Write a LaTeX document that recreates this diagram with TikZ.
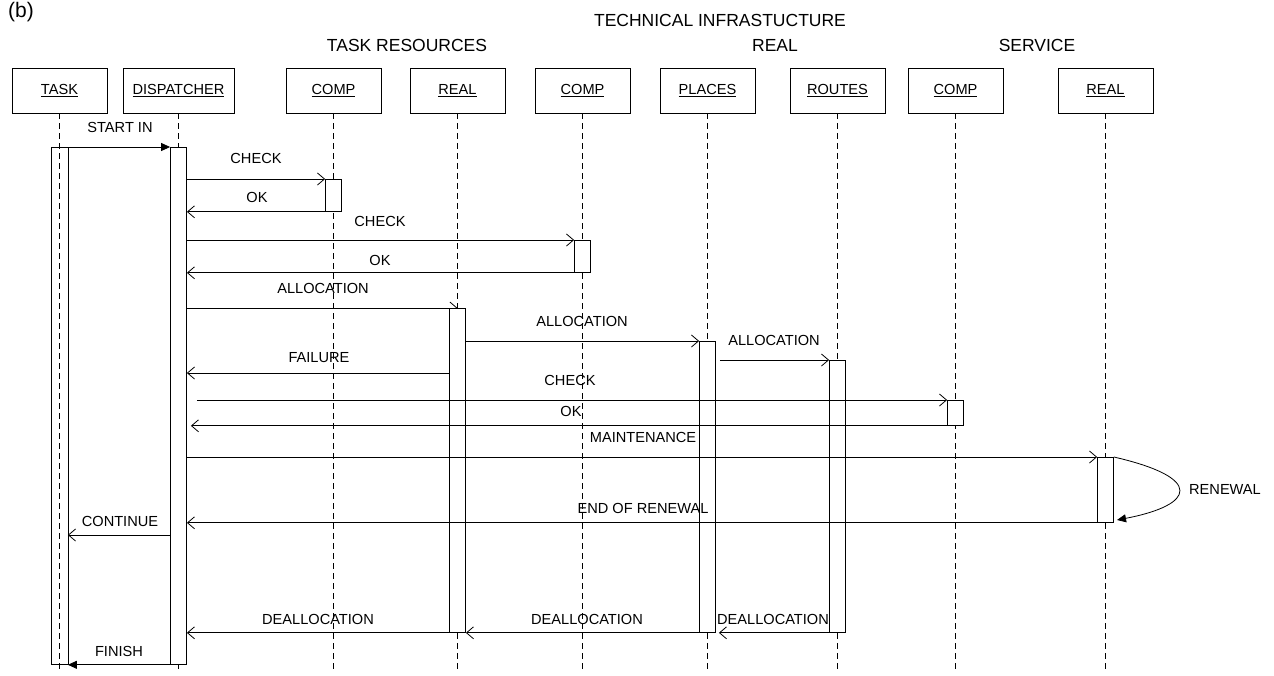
\documentclass[tikz,border=0pt]{standalone}
\usepackage{fontspec}
\setmainfont{Liberation Sans}
\usetikzlibrary{arrows.meta}
\begin{document}
\begin{tikzpicture}[x=1pt,y=-1pt,line width=0.8pt,
  obj/.style={draw, minimum width=95pt, minimum height=45pt, inner sep=0pt,
              font=\fontsize{14.6}{16}\selectfont},
  act/.style={draw, fill=white, minimum width=16pt, inner sep=0pt, anchor=north},
  life/.style={dash pattern=on 6pt off 4pt},
  msg/.style={-{Straight Barb[length=7pt,width=12pt,line width=0.8pt]}},
  sync/.style={-{Triangle[length=9pt,width=8pt]}},
  lbl/.style={font=\fontsize{14.6}{16}\selectfont, inner sep=0pt},
  hdr/.style={font=\fontsize{17.5}{20}\selectfont, inner sep=0pt}]
\useasboundingbox (0,0) rectangle (1274,675);

% panel tag and group headings
\node[font=\fontsize{21}{24}\selectfont, inner sep=0pt, anchor=base] (tag) at (21,17) {(b)};
\node[hdr] (hInfra) at (720,20) {TECHNICAL INFRASTUCTURE};
\node[hdr] (hTask) at (407,45) {TASK RESOURCES};
\node[hdr] (hReal) at (775,45) {REAL};
\node[hdr] (hServ) at (1037,45) {SERVICE};

% participants
\node[obj] (task) at (59.5,90.5) {\underline{TASK}};
\node[obj, minimum width=111pt] (disp) at (178.5,90.5) {\underline{DISPATCHER}};
\node[obj] (comp1) at (333.5,90.5) {\underline{COMP}};
\node[obj] (real1) at (457.5,90.5) {\underline{REAL}};
\node[obj] (comp2) at (582.5,90.5) {\underline{COMP}};
\node[obj] (places) at (707.5,90.5) {\underline{PLACES}};
\node[obj] (routes) at (837.5,90.5) {\underline{ROUTES}};
\node[obj] (comp3) at (955.5,90.5) {\underline{COMP}};
\node[obj] (real2) at (1105.5,90.5) {\underline{REAL}};

% lifelines
\coordinate (bottom) at (0,672);
\foreach \p in {task,disp,comp1,real1,comp2,places,routes,comp3,real2}
  \draw[life] (\p.south) -- (\p.south |- bottom);

% activation bars
\node[act, draw=none, fill=none, minimum height=517pt] (aT) at (59.5,147) {};
\draw (aT.north west) rectangle (aT.south east);
\node[act, minimum height=517pt] (aD) at (178.5,147) {};
\node[act, minimum height=32pt] (aC1) at (333.5,179) {};
\node[act, minimum height=32pt] (aC2) at (582.5,240) {};

% allocation request to the task resources
\coordinate (realTop) at (457.5,308);
\draw[msg] (aD.east |- realTop) -- (realTop);

\node[act, minimum height=324pt] (aR) at (realTop) {};
\node[act, minimum height=291pt] (aP) at (707.5,341) {};
\node[act, minimum height=272pt] (aRo) at (837.5,360) {};
\node[act, minimum height=25pt] (aC3) at (955.5,400) {};
\node[act, minimum height=65pt] (aR2) at (1105.5,457) {};

% messages
\draw[sync] (aT.north east) -- (aD.north west);
\draw[msg] (aD.east |- aC1.north) -- (aC1.north west);
\draw[msg] (aC1.south west) -- (aD.east |- aC1.south);
\draw[msg] (aD.east |- aC2.north) -- (aC2.north west);
\draw[msg] (aC2.south west) -- (aD.east |- aC2.south);
\draw[msg] (aR.east |- aP.north) -- (aP.north west);
\draw[msg] ([xshift=4pt]aP.east |- aRo.north) -- (aRo.north west);
\coordinate (fail) at (0,373);
\draw[msg] (aR.west |- fail) -- (aD.east |- fail);
\draw[msg] ([xshift=10pt]aD.east |- aC3.north) -- (aC3.north west);
\draw[msg] (aC3.south west) -- ([xshift=4pt]aD.east |- aC3.south);
\draw[msg] (aD.east |- aR2.north) -- (aR2.north west);
\coordinate (renewEnd) at (1117,520);
\draw[sync] (aR2.north east) .. controls (1205,478) and (1195,505) .. (renewEnd);
\draw[msg] (aR2.south west) -- (aD.east |- aR2.south);
\coordinate (cont) at (0,535);
\draw[msg] (aD.west |- cont) -- (aT.east |- cont);
\draw[msg] (aR.south west) -- (aD.east |- aR.south);
\draw[msg] (aP.south west) -- (aR.east |- aP.south);
\draw[msg] (aRo.south west) -- ([xshift=3pt]aP.east |- aRo.south);
\draw[sync] (aD.south west) -- (aT.south east);

% message labels
\node[lbl] (tStart) at (120,127) {START IN};
\node[lbl] (tChk1) at (256,158) {CHECK};
\node[lbl] (tOk1) at (257,197) {OK};
\node[lbl] (tChk2) at (380,221) {CHECK};
\node[lbl] (tOk2) at (380,260) {OK};
\node[lbl] (tAll1) at (323,288) {ALLOCATION};
\node[lbl] (tAll2) at (582,321) {ALLOCATION};
\node[lbl] (tAll3) at (774,340) {ALLOCATION};
\node[lbl] (tFail) at (319,358) {FAILURE};
\node[lbl] (tChk3) at (570,380) {CHECK};
\node[lbl] (tOk3) at (571,411) {OK};
\node[lbl] (tMaint) at (643,437) {MAINTENANCE};
\node[lbl] (tRenew) at (1225,489) {RENEWAL};
\node[lbl] (tEnd) at (643,508) {END OF RENEWAL};
\node[lbl] (tCont) at (120,521) {CONTINUE};
\node[lbl] (tDe1) at (318,619) {DEALLOCATION};
\node[lbl] (tDe2) at (587,619) {DEALLOCATION};
\node[lbl] (tDe3) at (773,619) {DEALLOCATION};
\node[lbl] (tFin) at (119,651) {FINISH};
\end{tikzpicture}
\end{document}
